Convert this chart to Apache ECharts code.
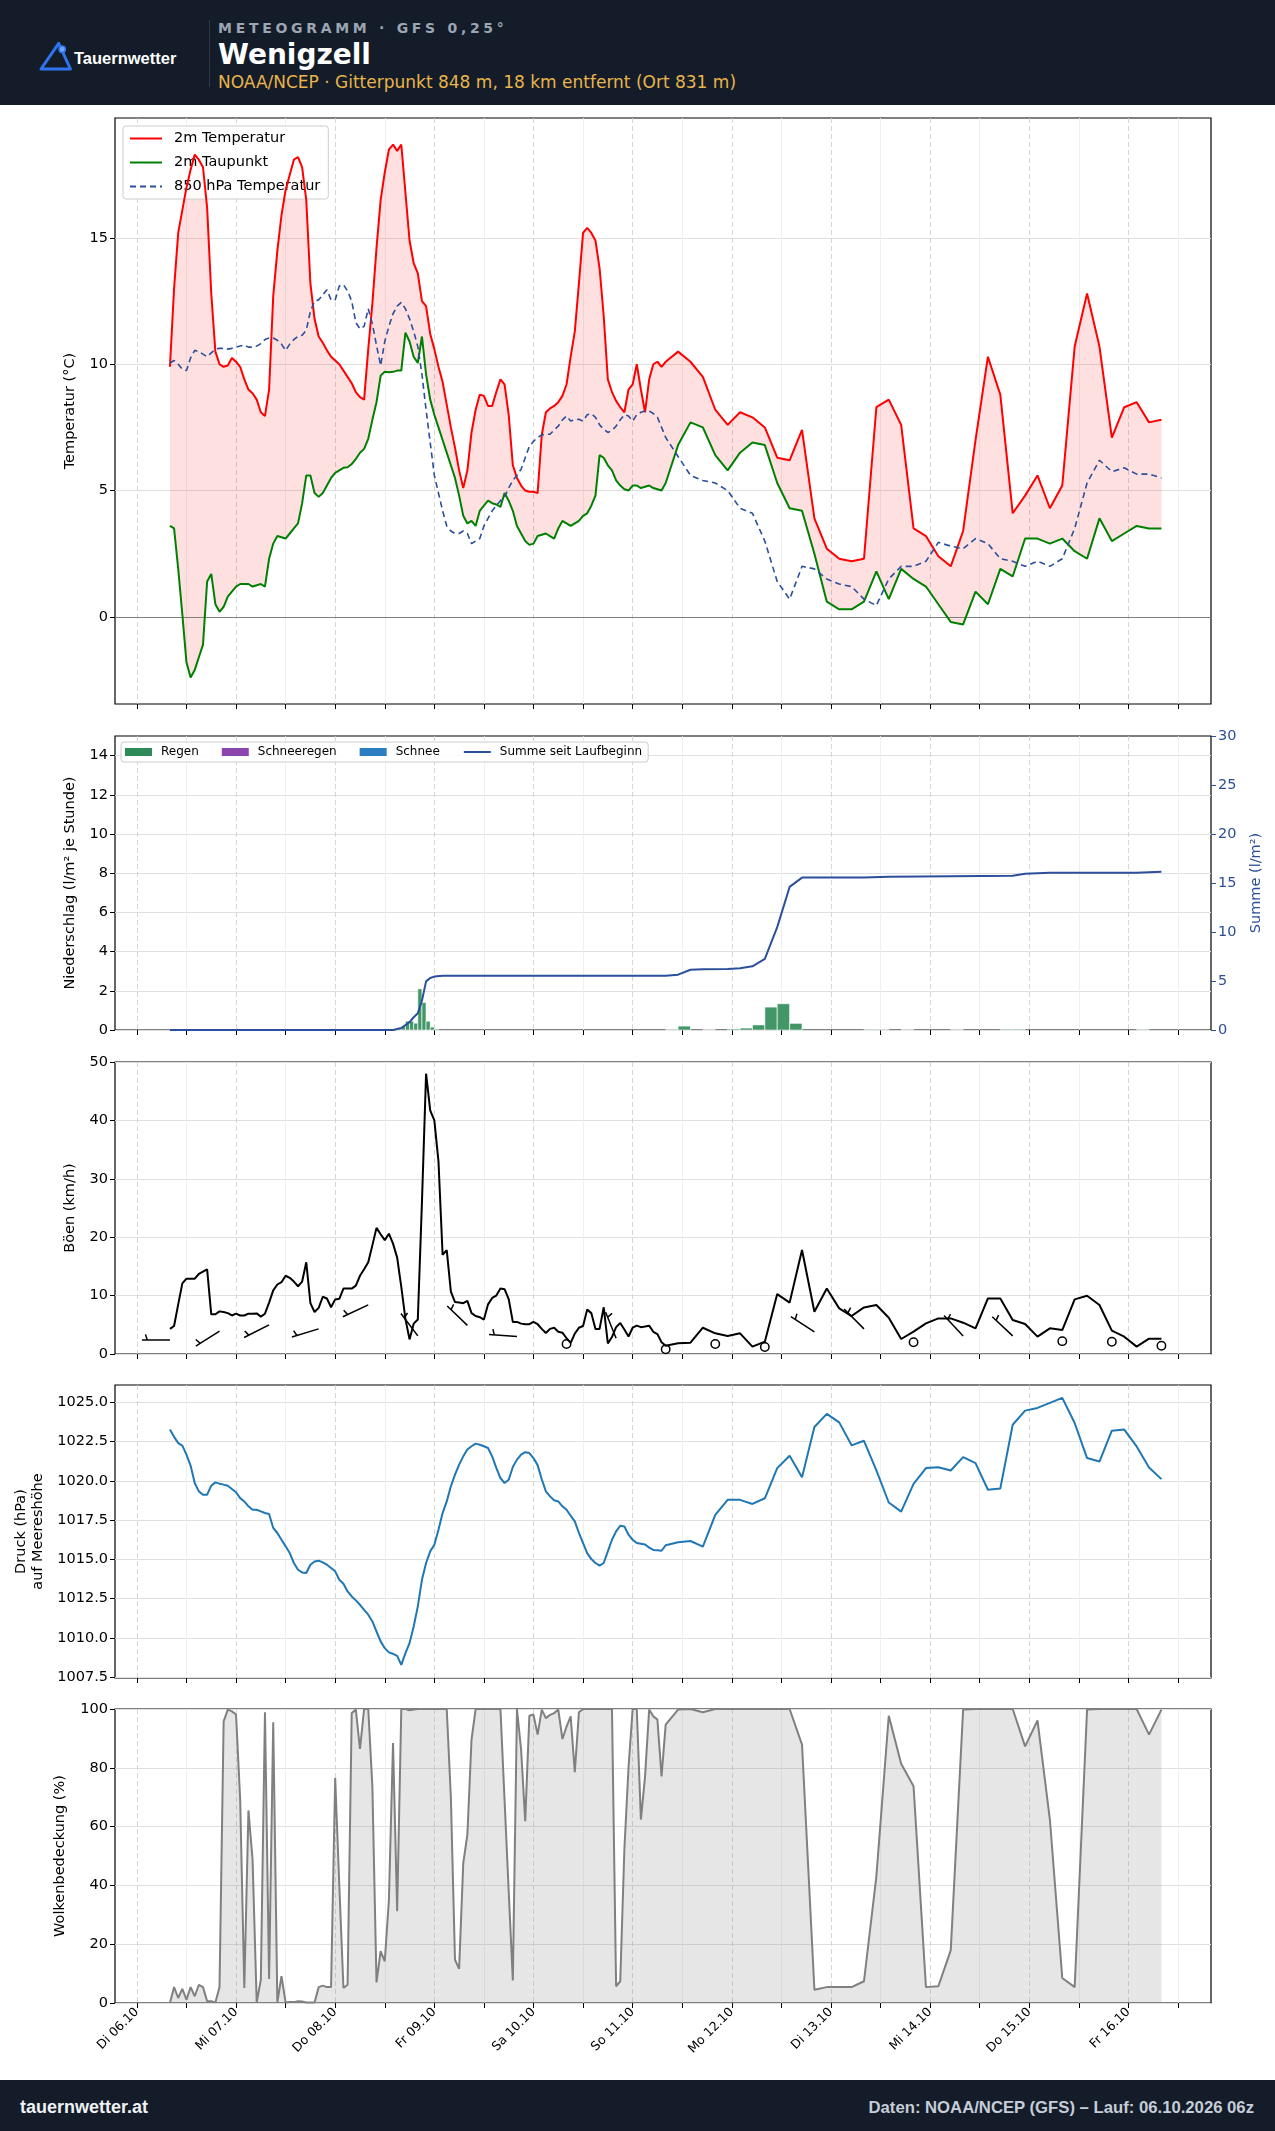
<!DOCTYPE html>
<html lang="de">
<head>
<meta charset="utf-8">
<title>Meteogramm Wenigzell</title>
<script src="https://cdn.jsdelivr.net/npm/echarts@6.0.0/dist/echarts.min.js"></script>
<style>
html,body{margin:0;padding:0;background:#fff;}
#page{position:relative;width:1275px;height:2131px;overflow:hidden;background:#fff;font-family:'DejaVu Sans',sans-serif;}
#chart{position:absolute;left:0;top:0;width:1275px;height:2131px;}
.bar{position:absolute;left:0;width:1275px;background:#131c28;}
#hdr{top:0;height:105px;}
#ftr{top:2080px;height:51px;}
.t{position:absolute;white-space:nowrap;line-height:1;}
</style>
</head>
<body>
<div id="page">
<div id="chart"></div>
<div class="bar" id="hdr">
 <svg style="position:absolute;left:38px;top:40px" width="36" height="32" viewBox="0 0 36 32">
  <path d="M20.7 3.3 L3 29 L32.4 29 Z" fill="none" stroke="#2f74ee" stroke-width="3" stroke-linejoin="round"/>
  <circle cx="24.2" cy="9.3" r="3.2" fill="#6aa6ff" stroke="#2f74ee" stroke-width="1.5"/>
 </svg>
 <div class="t" style="left:74px;top:49px;font:bold 16.5px 'Liberation Sans','DejaVu Sans',sans-serif;color:#fff">Tauernwetter</div>
 <div style="position:absolute;left:209px;top:20px;width:1px;height:67px;background:#2c3847"></div>
 <div class="t" style="left:218px;top:20px;font:bold 14px 'DejaVu Sans';letter-spacing:3.7px;color:#9ba6b4">METEOGRAMM · GFS 0,25°</div>
 <div class="t" style="left:218px;top:38px;font:bold 28px 'DejaVu Sans';color:#fff">Wenigzell</div>
 <div class="t" style="left:218px;top:72px;font:17px 'DejaVu Sans';color:#e9b44c">NOAA/NCEP · Gitterpunkt 848 m, 18 km entfernt (Ort 831 m)</div>
</div>
<div class="bar" id="ftr">
 <div class="t" style="left:20px;top:17px;font:bold 18px 'Liberation Sans','DejaVu Sans';color:#eef1f5">tauernwetter.at</div>
 <div class="t" style="right:21px;top:18px;font:bold 16.7px 'Liberation Sans','DejaVu Sans';color:#c5cdd8">Daten: NOAA/NCEP (GFS) – Lauf: 06.10.2026 06z</div>
</div>
</div>
<script>
// ---- axis / tick data (hours since Di 06.10 00:00 local time) ----
const XMIN = -5.3, XMAX = 260;
const DAY_TICKS = [0,24,48,72,96,120,144,168,192,216,240];
const HALF_TICKS = [12,36,60,84,108,132,156,180,204,228,252];
const DAY_LABELS = ['Di 06.10','Mi 07.10','Do 08.10','Fr 09.10','Sa 10.10','So 11.10','Mo 12.10','Di 13.10','Mi 14.10','Do 15.10','Fr 16.10'];
const TEMP_TICKS = [0,5,10,15];
const PRECIP_TICKS = [0,2,4,6,8,10,12,14];
const PRESS_TICKS = [1007.5,1010,1012.5,1015,1017.5,1020,1022.5,1025];

// ---- series values [hour, value] ----
const TEMP = [[8,9.9],[9,13.0],[10,15.2],[11,16.1],[12,17.0],[13,17.7],[14,18.3],[15,18.1],[16,17.8],[17,16.2],[18,12.8],[19,10.5],[20,10.0],[21,9.9],[22,9.95],[23,10.25],[24,10.1],[25,9.9],[26,9.4],[27,9.0],[28,8.85],[29,8.6],[30,8.1],[31,7.95],[32,9.0],[33,12.7],[34,14.5],[35,15.9],[36,16.9],[37,17.5],[38,18.1],[39,18.2],[40,17.8],[41,16.5],[42,13.2],[43,11.8],[44,11.1],[45,10.85],[46,10.55],[47,10.3],[48,10.15],[49,10.0],[50,9.75],[51,9.5],[52,9.25],[53,8.9],[54,8.7],[55,8.6],[56,10.6],[57,12.4],[58,14.6],[59,16.5],[60,17.6],[61,18.5],[62,18.7],[63,18.45],[64,18.7],[65,16.8],[66,14.9],[67,14.0],[68,13.6],[69,12.5],[70,12.3],[71,11.2],[72,10.6],[73,9.9],[74,9.3],[75,8.4],[76,7.5],[77,6.7],[78,5.8],[79,5.1],[80,5.8],[81,7.3],[82,8.2],[83,8.8],[84,8.75],[85,8.35],[86,8.35],[87,8.9],[88,9.4],[89,9.2],[90,8.0],[91,6.0],[92,5.5],[93,5.2],[94,5.0],[95,4.95],[96,4.95],[97,4.9],[98,7.2],[99,8.1],[100,8.25],[101,8.35],[102,8.5],[103,8.75],[104,9.2],[105,10.3],[106,11.3],[107,13.2],[108,15.2],[109,15.4],[110,15.2],[111,14.9],[112,13.8],[113,11.9],[114,9.4],[115,8.9],[116,8.55],[117,8.3],[118,8.1],[119,9.0],[120,9.2],[121,10.0],[122,9.0],[123,8.1],[124,9.4],[125,10.0],[126,10.1],[127,9.9],[128,10.1],[131,10.5],[134,10.1],[137,9.5],[140,8.2],[143,7.6],[146,8.1],[149,7.9],[152,7.5],[155,6.3],[158,6.2],[161,7.4],[164,3.9],[167,2.7],[170,2.3],[173,2.2],[176,2.3],[179,8.3],[182,8.6],[185,7.6],[188,3.5],[191,3.2],[194,2.4],[197,2.0],[200,3.4],[203,7.0],[206,10.3],[209,8.8],[212,4.1],[215,4.8],[218,5.6],[221,4.3],[224,5.2],[227,10.7],[230,12.8],[233,10.7],[236,7.1],[239,8.3],[242,8.5],[245,7.7],[248,7.8]];
const DEW = [[8,3.6],[9,3.5],[10,1.9],[11,0.1],[12,-1.8],[13,-2.4],[14,-2.1],[15,-1.6],[16,-1.1],[17,1.4],[18,1.7],[19,0.5],[20,0.2],[21,0.4],[22,0.8],[23,1.0],[24,1.2],[25,1.3],[26,1.3],[27,1.3],[28,1.2],[29,1.25],[30,1.3],[31,1.2],[32,2.3],[33,2.9],[34,3.2],[35,3.15],[36,3.1],[37,3.3],[38,3.5],[39,3.7],[40,4.5],[41,5.6],[42,5.6],[43,4.9],[44,4.75],[45,4.9],[46,5.2],[47,5.5],[48,5.7],[49,5.8],[50,5.9],[51,5.92],[52,6.05],[53,6.25],[54,6.5],[55,6.65],[56,7.05],[57,7.8],[58,8.5],[59,9.55],[60,9.7],[61,9.68],[62,9.7],[63,9.75],[64,9.75],[65,11.25],[66,10.9],[67,10.3],[68,10.05],[69,11.1],[70,9.6],[71,8.6],[72,8.0],[73,7.5],[74,7.0],[75,6.5],[76,6.0],[77,5.5],[78,4.8],[79,4.0],[80,3.7],[81,3.8],[82,3.6],[83,4.2],[84,4.4],[85,4.6],[86,4.5],[87,4.45],[88,4.35],[89,4.9],[90,4.6],[91,4.2],[92,3.6],[93,3.3],[94,3.0],[95,2.85],[96,2.9],[97,3.2],[98,3.25],[99,3.3],[100,3.2],[101,3.1],[102,3.5],[103,3.8],[104,3.7],[105,3.6],[106,3.7],[107,3.8],[108,4.0],[109,4.1],[110,4.4],[111,4.8],[112,6.4],[113,6.3],[114,6.0],[115,5.8],[116,5.4],[117,5.2],[118,5.05],[119,5.0],[120,5.2],[121,5.2],[122,5.1],[123,5.15],[124,5.2],[125,5.1],[126,5.05],[127,5.0],[128,5.3],[131,6.8],[134,7.7],[137,7.5],[140,6.4],[143,5.8],[146,6.5],[149,6.9],[152,6.8],[155,5.3],[158,4.3],[161,4.2],[164,2.5],[167,0.6],[170,0.3],[173,0.3],[176,0.6],[179,1.8],[182,0.7],[185,1.9],[188,1.5],[191,1.2],[194,0.5],[197,-0.2],[200,-0.3],[203,1.0],[206,0.5],[209,1.9],[212,1.6],[215,3.1],[218,3.1],[221,2.9],[224,3.1],[227,2.6],[230,2.3],[233,3.9],[236,3.0],[239,3.3],[242,3.6],[245,3.5],[248,3.5]];
const T850 = [[8,10.05],[9,10.15],[10,10.0],[11,9.8],[12,9.75],[13,10.25],[14,10.55],[15,10.5],[16,10.4],[17,10.3],[18,10.45],[19,10.6],[20,10.63],[21,10.63],[22,10.6],[23,10.63],[24,10.68],[25,10.72],[26,10.76],[27,10.68],[28,10.68],[29,10.72],[30,10.82],[31,10.98],[32,11.04],[33,11.04],[34,10.95],[35,10.8],[36,10.55],[37,10.8],[38,10.98],[39,11.1],[40,11.15],[41,11.35],[42,12.1],[43,12.5],[44,12.55],[45,12.75],[46,12.95],[47,12.55],[48,12.55],[49,13.1],[50,13.15],[51,12.9],[52,12.5],[53,11.65],[54,11.4],[55,11.5],[56,12.2],[57,11.6],[58,10.75],[59,9.95],[60,10.9],[61,11.5],[62,12.0],[63,12.3],[64,12.45],[65,12.2],[66,11.8],[67,11.3],[68,10.7],[69,9.6],[70,8.2],[71,6.9],[72,5.6],[73,4.9],[74,4.2],[75,3.6],[76,3.4],[77,3.3],[78,3.3],[79,3.4],[80,3.3],[81,2.9],[82,3.0],[83,3.1],[84,3.6],[85,3.9],[86,4.2],[87,4.4],[88,4.6],[89,4.75],[90,5.1],[91,5.4],[92,5.6],[93,5.85],[94,6.3],[95,6.75],[96,6.95],[97,7.1],[98,7.2],[99,7.23],[100,7.23],[101,7.4],[102,7.55],[103,7.8],[104,7.95],[105,7.75],[106,7.8],[107,7.82],[108,7.75],[109,8.0],[110,8.04],[111,7.9],[112,7.6],[113,7.43],[114,7.3],[115,7.38],[116,7.55],[117,7.8],[118,8.0],[119,7.95],[120,7.75],[121,8.0],[122,8.1],[123,8.15],[124,8.15],[125,8.05],[126,7.9],[127,7.5],[128,7.1],[131,6.35],[134,5.6],[137,5.4],[140,5.3],[143,5.0],[146,4.3],[149,4.1],[152,3.0],[155,1.4],[158,0.7],[161,2.0],[164,1.9],[167,1.5],[170,1.3],[173,1.2],[176,0.7],[179,0.45],[182,1.5],[185,2.0],[188,2.0],[191,2.2],[194,2.95],[197,2.8],[200,2.7],[203,3.1],[206,2.9],[209,2.3],[212,2.2],[215,2.0],[218,2.2],[221,2.0],[224,2.3],[227,3.5],[230,5.3],[233,6.2],[236,5.75],[239,5.9],[242,5.65],[245,5.65],[248,5.5]];
// precipitation bars [start hour, end hour, l/m² per hour]
const RAIN = [[63,64,0.05],[64,65,0.2],[65,66,0.45],[66,67,0.45],[67,68,0.35],[68,69,2.1],[69,70,1.4],[70,71,0.45],[71,72,0.15],[72,73,0.05],[128,131,0.03],[131,134,0.2],[137,140,0.02],[143,146,0.05],[146,149,0.1],[149,152,0.26],[152,155,1.17],[155,158,1.34],[158,161,0.34],[176,179,0.03],[179,182,0.03],[185,188,0.02],[197,200,0.03],[209,212,0.04],[212,215,0.04],[242,245,0.03]];
const PRECIP_SUM = [[8,0],[62,0],[64,0.2],[66,0.8],[67,1.3],[68,1.7],[69,3.0],[70,4.96],[71,5.3],[72,5.45],[74,5.54],[128,5.54],[131,5.65],[134,6.15],[137,6.2],[143,6.22],[146,6.3],[149,6.5],[152,7.25],[155,10.5],[158,14.6],[161,15.55],[176,15.55],[182,15.65],[197,15.7],[212,15.75],[215,15.95],[221,16.05],[242,16.05],[248,16.15]];
const GUST = [[8,4.3],[9,4.8],[10,8.5],[11,12.1],[12,12.9],[13,12.9],[14,12.9],[15,13.7],[16,14.1],[17,14.5],[18,6.8],[19,6.8],[20,7.3],[21,7.2],[22,7.0],[23,6.6],[24,6.9],[25,6.6],[26,6.6],[27,6.9],[28,6.9],[29,6.95],[30,6.4],[31,6.9],[32,8.8],[33,10.9],[34,11.9],[35,12.3],[36,13.4],[37,13.05],[38,12.4],[39,11.6],[40,12.4],[41,15.7],[42,8.7],[43,7.2],[44,7.9],[45,9.8],[46,9.5],[47,8.0],[48,9.35],[49,9.45],[50,11.2],[51,11.2],[52,11.2],[53,11.7],[54,13.4],[55,14.5],[56,15.7],[57,18.6],[58,21.6],[59,20.5],[60,19.5],[61,20.6],[62,18.9],[63,16.5],[64,11.5],[65,6.0],[66,2.5],[67,5.2],[68,5.9],[69,26.0],[70,48.0],[71,41.7],[72,40.0],[73,33.0],[74,17.0],[75,17.8],[76,10.7],[77,8.9],[78,8.8],[79,8.7],[80,9.1],[81,7.0],[82,6.5],[83,6.3],[84,5.9],[85,8.5],[86,9.6],[87,10.0],[88,11.2],[89,11.1],[90,9.4],[91,5.5],[92,5.5],[93,5.2],[94,5.1],[95,5.1],[96,5.5],[97,5.1],[98,4.3],[99,3.6],[100,4.3],[101,4.5],[102,3.8],[103,3.65],[104,2.7],[105,1.9],[106,3.5],[107,4.5],[108,4.8],[109,7.6],[110,7.0],[111,4.3],[112,4.3],[113,8.0],[114,1.8],[115,2.9],[116,4.6],[117,5.3],[118,4.2],[119,3.0],[120,4.5],[121,4.85],[122,4.6],[123,4.7],[124,4.85],[125,3.8],[126,3.4],[127,2.0],[128,1.4],[131,1.83],[134,1.94],[137,4.5],[140,3.54],[143,3.08],[146,3.54],[149,1.26],[152,2.11],[155,10.26],[158,8.8],[161,17.8],[164,7.24],[167,11.23],[170,7.81],[173,6.5],[176,7.98],[179,8.38],[182,6.22],[185,2.57],[188,3.82],[191,5.24],[194,6.1],[197,6.1],[200,5.36],[203,4.39],[206,9.52],[209,9.52],[212,5.81],[215,5.13],[218,2.97],[221,4.39],[224,4.1],[227,9.35],[230,9.98],[233,8.38],[236,4.0],[239,2.97],[242,1.26],[245,2.62],[248,2.62]];
// wind barbs: hour, mean wind (km/h, barb position), direction (deg, null = calm)
const BARB_HOURS = [8,20,32,44,56,68,80,92,104,116,128,140,152,164,176,188,200,212,224,236,248];
const BARB_SPEED = [2.4,3.9,5.0,4.3,8.4,3.1,4.9,3.0,1.7,2.7,0.8,1.7,1.2,3.8,4.3,2.0,3.1,3.1,2.2,2.1,1.4];
const BARB_DIR = [270,238,243,253,245,323,314,274,null,338,null,null,null,303,315,null,317,313,null,null,null];
const PRESS = [[8,1023.26],[9,1022.8],[10,1022.4],[11,1022.24],[12,1021.67],[13,1020.97],[14,1019.86],[15,1019.33],[16,1019.12],[17,1019.12],[18,1019.69],[19,1019.9],[20,1019.82],[21,1019.76],[22,1019.69],[23,1019.48],[24,1019.27],[25,1018.9],[26,1018.69],[27,1018.38],[28,1018.16],[29,1018.16],[30,1018.06],[31,1017.95],[32,1017.89],[33,1017.0],[34,1016.68],[35,1016.25],[36,1015.83],[37,1015.4],[38,1014.77],[39,1014.34],[40,1014.17],[41,1014.13],[42,1014.66],[43,1014.87],[44,1014.92],[45,1014.81],[46,1014.66],[47,1014.45],[48,1014.24],[49,1013.7],[50,1013.45],[51,1012.96],[52,1012.64],[53,1012.39],[54,1012.11],[55,1011.79],[56,1011.48],[57,1011.05],[58,1010.41],[59,1009.78],[60,1009.35],[61,1009.08],[62,1008.99],[63,1008.86],[64,1008.29],[65,1009.03],[66,1009.67],[67,1010.73],[68,1012.01],[69,1013.7],[70,1014.77],[71,1015.51],[72,1015.93],[73,1016.89],[74,1017.95],[75,1018.69],[76,1019.65],[77,1020.39],[78,1021.03],[79,1021.56],[80,1021.99],[81,1022.2],[82,1022.37],[83,1022.3],[84,1022.2],[85,1022.09],[86,1021.56],[87,1020.82],[88,1020.18],[89,1019.86],[90,1020.07],[91,1020.88],[92,1021.35],[93,1021.67],[94,1021.82],[95,1021.77],[96,1021.45],[97,1021.0],[98,1020.1],[99,1019.33],[100,1019.01],[101,1018.76],[102,1018.69],[103,1018.38],[104,1018.16],[105,1017.78],[106,1017.42],[107,1016.68],[108,1016.04],[109,1015.4],[110,1015.02],[111,1014.77],[112,1014.6],[113,1014.77],[114,1015.51],[115,1016.25],[116,1016.78],[117,1017.14],[118,1017.1],[119,1016.57],[120,1016.25],[121,1016.04],[122,1016.0],[123,1015.95],[124,1015.75],[125,1015.6],[126,1015.58],[127,1015.55],[128,1015.9],[131,1016.09],[134,1016.17],[137,1015.81],[140,1017.83],[143,1018.79],[146,1018.79],[149,1018.53],[152,1018.89],[155,1020.81],[158,1021.6],[161,1020.23],[164,1023.43],[167,1024.26],[170,1023.72],[173,1022.26],[176,1022.55],[179,1020.66],[182,1018.62],[185,1018.04],[188,1019.81],[191,1020.81],[194,1020.87],[197,1020.66],[200,1021.51],[203,1021.13],[206,1019.43],[209,1019.51],[212,1023.57],[215,1024.47],[218,1024.64],[221,1024.96],[224,1025.28],[227,1023.68],[230,1021.45],[233,1021.23],[236,1023.19],[239,1023.26],[242,1022.19],[245,1020.85],[248,1020.11]];
const CLOUD = [[8,0],[9,5.4],[10,1.7],[11,4.8],[12,1.1],[13,5.4],[14,2.3],[15,6.2],[16,5.4],[17,0.6],[18,0.6],[19,0.2],[20,5.4],[21,95.8],[22,99.8],[23,99.2],[24,98.1],[25,69.2],[26,5.1],[27,65.5],[28,48.8],[29,0.2],[30,7.9],[31,98.9],[32,8.2],[33,95.5],[34,0.2],[35,9.1],[36,0.2],[37,0.3],[38,0.3],[39,0.6],[40,0.5],[41,0.2],[42,0.2],[43,0.2],[44,5.4],[45,5.9],[46,5.4],[47,5.4],[48,76.5],[49,39.7],[50,5.1],[51,6.2],[52,98.6],[53,99.8],[54,86.4],[55,100],[56,100],[57,73.7],[58,7.0],[59,17.6],[60,14.2],[61,35],[62,88.4],[63,31.2],[64,100],[65,100],[66,99.6],[67,99.8],[68,100],[69,100],[70,100],[71,100],[72,100],[73,100],[74,100],[75,100],[76,70],[77,14.7],[78,11.6],[79,47.6],[80,57.3],[81,89.6],[82,100],[83,100],[84,100],[85,100],[86,100],[87,100],[88,100],[89,69],[90,38],[91,7.7],[92,100],[93,86.2],[94,61.8],[95,97.7],[96,98.1],[97,91.3],[98,99.8],[99,96.9],[100,98],[101,98.6],[102,99.8],[103,89.8],[104,94],[105,97.5],[106,78.5],[107,98.9],[108,100],[109,100],[110,100],[111,100],[112,100],[113,100],[114,100],[115,100],[116,5.7],[117,7.4],[118,52.2],[119,80],[120,100],[121,100],[122,62.4],[123,77],[124,99.8],[125,97.5],[126,96.4],[127,77.1],[128,94.7],[131,99.8],[134,100],[137,98.9],[140,100],[143,100],[146,100],[149,100],[152,100],[155,100],[158,100],[161,87.9],[164,4.5],[167,5.4],[170,5.4],[173,5.4],[176,7.4],[179,43.1],[182,97.7],[185,81.4],[188,73.7],[191,5.4],[194,5.7],[197,17.9],[200,99.8],[203,100],[206,100],[209,100],[212,100],[215,87.3],[218,96.1],[221,62.4],[224,8.5],[227,5.4],[230,99.8],[233,100],[236,100],[239,100],[242,100],[245,91.3],[248,99.8]];

// ---- chart ----
const FONT = 'DejaVu Sans';
const BLUE_AX = '#2c4f95';
const chart = echarts.init(document.getElementById('chart'), null, {renderer:'canvas', width:1275, height:2131});

const GRIDS = [[118,586],[736,294],[1062,292],[1385,293],[1709,294]];
const grid = GRIDS.map(g => ({left:115, width:1096, top:g[0], height:g[1], show:true, borderColor:'#000', borderWidth:1.2, backgroundColor:'rgba(0,0,0,0)'}));

const xAxis = [];
for (let i = 0; i < 5; i++) {
  xAxis.push({
    type:'value', gridIndex:i, min:XMIN, max:XMAX, position:'bottom',
    axisLine:{show:false, onZero:false},
    axisTick:{show:true, customValues:DAY_TICKS, length:5, lineStyle:{color:'#000', width:1}},
    axisLabel: i === 4 ? {show:true, customValues:DAY_TICKS, rotate:45, fontSize:12.5, fontFamily:FONT, color:'#000', margin:7,
      formatter: v => { const k = DAY_TICKS.indexOf(Math.round(v)); return k >= 0 ? DAY_LABELS[k] : ''; }} : {show:false},
    splitLine:{show:true, lineStyle:{color:'#cdcdcd', width:0.8, type:[5,3]}}
  });
  xAxis.push({
    type:'value', gridIndex:i, min:XMIN, max:XMAX, position:'bottom',
    axisLine:{show:false, onZero:false},
    axisTick:{show:true, customValues:HALF_TICKS, length:5, lineStyle:{color:'#000', width:1}},
    axisLabel:{show:false},
    splitLine:{show:true, lineStyle:{color:'#ebebeb', width:0.8}}
  });
}

function yAx(o) {
  const base = {
    type:'value', axisLine:{show:false, onZero:false},
    axisTick:{show:true, length:5, lineStyle:{color:'#000', width:1}},
    axisLabel:{fontSize:14.5, fontFamily:FONT, color:'#000', margin:7},
    splitLine:{show:true, lineStyle:{color:'#e0e0e0', width:1}},
    nameLocation:'middle', nameRotate:90,
    nameTextStyle:{fontSize:14.5, fontFamily:FONT, color:'#000', lineHeight:17}
  };
  const r = Object.assign({}, base, o);
  if (o.axisTick) r.axisTick = Object.assign({}, base.axisTick, o.axisTick);
  if (o.axisLabel) r.axisLabel = Object.assign({}, base.axisLabel, o.axisLabel);
  if (o.nameTextStyle) r.nameTextStyle = Object.assign({}, base.nameTextStyle, o.nameTextStyle);
  return r;
}

const yAxis = [
  yAx({gridIndex:0, min:-3.45, max:19.75, name:'Temperatur (°C)', nameGap:36,
       axisTick:{customValues:TEMP_TICKS}, axisLabel:{customValues:TEMP_TICKS}}),
  yAx({gridIndex:1, min:0, max:15, name:'Niederschlag (l/m² je Stunde)', nameGap:36,
       axisTick:{customValues:PRECIP_TICKS}, axisLabel:{customValues:PRECIP_TICKS}}),
  yAx({gridIndex:1, min:0, max:30, interval:5, position:'right', name:'Summe (l/m²)', nameGap:34,
       splitLine:{show:false},
       axisTick:{lineStyle:{color:BLUE_AX, width:1}}, axisLabel:{color:BLUE_AX}, nameTextStyle:{color:BLUE_AX}}),
  yAx({gridIndex:2, min:0, max:50, interval:10, name:'Böen (km/h)', nameGap:36}),
  yAx({gridIndex:3, min:1007.45, max:1026.1, name:'Druck (hPa)\nauf Meereshöhe', nameGap:62,
       axisTick:{customValues:PRESS_TICKS}, axisLabel:{customValues:PRESS_TICKS, formatter:v => Number(v).toFixed(1)}}),
  yAx({gridIndex:4, min:0, max:100, interval:20, name:'Wolkenbedeckung (%)', nameGap:46})
];

const line = (name, data, xi, yi, color, width, extra) => Object.assign({
  type:'line', name, data, xAxisIndex:xi, yAxisIndex:yi, symbol:'none', showSymbol:false,
  lineStyle:{color, width}, itemStyle:{color}, z:5, silent:true
}, extra || {});

const series = [
  { type:'custom', name:'band', xAxisIndex:0, yAxisIndex:0, data:[[TEMP[0][0], TEMP[0][1]]], z:2, silent:true,
    renderItem:(params, api) => {
      const pts = [];
      TEMP.forEach(p => pts.push(api.coord(p)));
      for (let i = DEW.length - 1; i >= 0; i--) pts.push(api.coord(DEW[i]));
      return {type:'polygon', shape:{points:pts}, style:{fill:'rgba(255,0,0,0.12)'}};
    }},
  line('2m Temperatur', TEMP, 0, 0, '#ff0000', 2, {
    markLine:{silent:true, symbol:'none', label:{show:false}, lineStyle:{color:'#7f7f7f', width:1, type:'solid'}, data:[{yAxis:0}], animation:false}
  }),
  line('2m Taupunkt', DEW, 0, 0, '#008000', 2),
  line('850 hPa Temperatur', T850, 0, 0, '#2b4f9b', 1.6, {lineStyle:{color:'#2b4f9b', width:1.6, type:[6,4]}}),
  { type:'custom', name:'Regen', xAxisIndex:2, yAxisIndex:1, data:RAIN, itemStyle:{color:'#2e8b57'}, z:3, silent:true,
    encode:{x:[0,1], y:2},
    renderItem:(params, api) => {
      const p0 = api.coord([api.value(0), api.value(2)]);
      const p1 = api.coord([api.value(1), 0]);
      return {type:'rect', shape:{x:p0[0], y:p0[1], width:p1[0]-p0[0], height:p1[1]-p0[1]},
              style:{fill:'#2e8b57', opacity:0.9, stroke:'#ffffff', lineWidth:0.7}};
    }},
  { type:'bar', name:'Schneeregen', xAxisIndex:2, yAxisIndex:1, data:[], itemStyle:{color:'#8e44ad'} },
  { type:'bar', name:'Schnee', xAxisIndex:2, yAxisIndex:1, data:[], itemStyle:{color:'#2a7fc0'} },
  line('Summe seit Laufbeginn', PRECIP_SUM, 2, 2, '#2b4f9b', 2),
  line('Böen', GUST, 4, 3, '#000000', 2),
  { type:'custom', name:'Wind', xAxisIndex:4, yAxisIndex:3, z:6, silent:true,
    data: BARB_HOURS.map((h, i) => [h, BARB_SPEED[i], BARB_DIR[i] === null ? -1 : BARB_DIR[i]]),
    renderItem:(params, api) => {
      const P = api.coord([api.value(0), api.value(1)]);
      const d = api.value(2);
      if (d < 0) return {type:'circle', shape:{cx:P[0], cy:P[1], r:4.2}, style:{fill:'none', stroke:'#000', lineWidth:1.5}};
      const L = 28, rad = d * Math.PI / 180;
      const ux = Math.sin(rad), uy = -Math.cos(rad);
      const nx = -uy, ny = ux;
      const bx = P[0] + ux * L * 0.8125, by = P[1] + uy * L * 0.8125;
      return {type:'group', children:[
        {type:'line', shape:{x1:P[0], y1:P[1], x2:P[0] + ux * L, y2:P[1] + uy * L}, style:{stroke:'#000', lineWidth:1.5}},
        {type:'line', shape:{x1:bx, y1:by, x2:bx + nx * 5.6 + ux * 1.75, y2:by + ny * 5.6 + uy * 1.75}, style:{stroke:'#000', lineWidth:1.5}}
      ]};
    }},
  line('Druck', PRESS, 6, 4, '#1f77b4', 2),
  line('Wolkenbedeckung', CLOUD, 8, 5, '#808080', 2, {areaStyle:{color:'rgba(128,128,128,0.2)', opacity:1}})
];

const NOSYM = {opacity:0, borderWidth:0};
const legend = [
  { orient:'vertical', left:123, top:126, padding:[5,8,5,6], itemWidth:32, itemHeight:14, itemGap:9,
    backgroundColor:'rgba(255,255,255,0.85)', borderColor:'#cccccc', borderWidth:1, borderRadius:3,
    selectedMode:false, textStyle:{fontSize:14.5, fontFamily:FONT, color:'#000', padding:[0,0,0,7]},
    data:[{name:'2m Temperatur', itemStyle:NOSYM},{name:'2m Taupunkt', itemStyle:NOSYM},{name:'850 hPa Temperatur', itemStyle:NOSYM}] },
  { orient:'horizontal', left:121, top:742, padding:[4,6,4,4], itemWidth:27, itemHeight:8, itemGap:23,
    backgroundColor:'rgba(255,255,255,0.85)', borderColor:'#cccccc', borderWidth:1, borderRadius:3,
    selectedMode:false, textStyle:{fontSize:12, fontFamily:FONT, color:'#000', padding:[0,0,0,4]},
    data:[{name:'Regen', icon:'rect'},{name:'Schneeregen', icon:'rect'},{name:'Schnee', icon:'rect'},{name:'Summe seit Laufbeginn', itemStyle:NOSYM}] }
];

chart.setOption({
  animation:false,
  backgroundColor:'#ffffff',
  textStyle:{fontFamily:FONT},
  grid, xAxis, yAxis, legend, series
});
</script>
</body>
</html>
